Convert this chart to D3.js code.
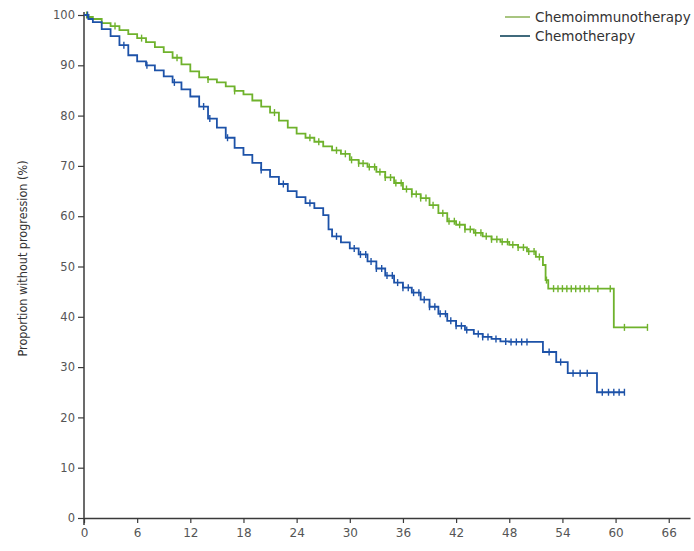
<!DOCTYPE html>
<html>
<head>
<meta charset="utf-8">
<script src="https://cdn.jsdelivr.net/npm/d3@7"></script>
<style>
  html, body { margin: 0; padding: 0; background: #fff; }
  svg { display: block; }
  text { font-family: "DejaVu Sans", "Liberation Sans", Arial, sans-serif; }
</style>
</head>
<body>
<svg id="chart" width="694" height="551"></svg>
<script>
// ---- Data ----
const seriesNames = ["Chemoimmunotherapy", "Chemotherapy"];

const chemoImmunoTimes = [0,0.5,1,2,3,4,5,6,7,8,9,10,11,12,13,14,15,16,17,18,19,20,21,22,23,24,25,26,27,28,29,30,31,32,33,34,35,36,37,38,39,40,41,42,43,44,45,46,47,48,49,50,51,51.8,52.1,52.4,59.8];
const chemoImmunoValues = [100,99.6,99.2,98.4,97.8,97.0,96.2,95.4,94.6,93.6,92.6,91.5,90.2,88.8,87.6,87.2,86.6,85.8,84.9,84.2,83.0,81.8,80.6,79.0,77.6,76.4,75.6,74.8,73.9,73.1,72.4,71.2,70.5,69.8,68.8,67.7,66.6,65.4,64.4,63.6,62.2,60.6,59.0,58.3,57.4,56.7,56.0,55.4,54.9,54.3,53.8,53.0,51.9,50.3,47.3,45.6,37.9];
const chemoImmunoEnd = 63.6;
const chemoImmunoCensored = [0.3,3.5,6.5,10.5,14,17,21.5,25.5,26.5,28.5,29.5,30.2,31,31.5,32.2,32.8,33.4,34,34.6,35.2,35.8,36.4,37,37.5,38,38.6,39.4,40.5,41.2,41.8,42.4,43,43.6,44.2,44.8,45.4,46,46.6,47.2,47.8,48.4,49,49.6,50.2,50.8,51.4,52.2,53,53.5,54,54.5,55,55.5,56,56.5,57,58,59.4,61,63.6];

const chemoTimes = [0,0.5,1,2,3,4,5,6,7,8,9,10,11,12,13,14,15,16,17,18,19,20,21,22,23,24,25,26,27,27.6,28,29,30,31,32,33,34,35,36,37,38,39,40,41,42,43,44,45,46,47,48,51.8,53.3,54.6,57.9];
const chemoValues = [100,99.2,98.6,97.2,95.8,94.0,92.0,90.8,90.0,89.0,87.8,86.6,85.2,83.8,81.8,79.4,77.6,75.6,73.6,72.2,70.6,69.2,67.8,66.4,65.0,63.8,62.6,61.6,60.2,57.4,56.0,54.8,53.6,52.4,51.0,49.6,48.2,46.8,45.8,44.8,43.4,42.0,40.6,39.2,38.2,37.4,36.6,36.0,35.6,35.1,35.0,33.0,31.0,28.8,25.0];
const chemoEnd = 61;
const chemoCensored = [0.4,4.5,7.1,10.2,13.5,14.2,16.2,20,22.5,25.5,28.5,30.5,31.2,31.8,32.4,33,33.6,34.2,34.8,35.4,36,36.6,37.2,37.8,38.4,39,39.6,40.2,40.8,41.4,42,42.6,43.2,44.5,45,45.6,46.5,47.6,48.2,48.8,49.4,50,52.5,53.8,55.2,56,56.8,58.5,59.2,59.8,60.4,61];

const xTicks = [0,6,12,18,24,30,36,42,48,54,60,66];
const yTicks = [0,10,20,30,40,50,60,70,80,90,100];
const yLabel = "Proportion without progression (%)";

const colors = ["#6fb22c", "#1d52a8"];
const legendColors = ["#9fbf72", "#2b5a6e"];

// ---- Scales ----
const svg = d3.select("#chart");
const x = d3.scaleLinear().domain([0, 68.4]).range([84, 690]);
const y = d3.scaleLinear().domain([0, 100]).range([518, 15]);

// ---- Axes ----
const axisColor = "#3a3a3a";
const gx = svg.append("g").attr("transform", `translate(0,${y(0)})`)
  .call(d3.axisBottom(x).tickValues(xTicks).tickSize(5).tickPadding(5).tickSizeOuter(0));
gx.select(".domain").attr("stroke", axisColor).attr("stroke-width", 1.5);
gx.selectAll(".tick line").attr("stroke", axisColor).attr("stroke-width", 1.2);
gx.selectAll(".tick text").attr("fill", "#555").style("font-size", "12px")
  .style("font-family", "DejaVu Sans, sans-serif");

const gy = svg.append("g").attr("transform", `translate(${x(0)},0)`)
  .call(d3.axisLeft(y).tickValues(yTicks).tickSize(6).tickPadding(3).tickSizeOuter(0));
gy.select(".domain").remove();
gy.append("line").attr("x1", 0).attr("x2", 0)
  .attr("y1", y(100) - 3).attr("y2", y(0) + 7)
  .attr("stroke", axisColor).attr("stroke-width", 1.5);
gy.selectAll(".tick line").attr("stroke", axisColor).attr("stroke-width", 1.2);
gy.selectAll(".tick text").attr("fill", "#555").style("font-size", "11.5px")
  .style("font-family", "DejaVu Sans, sans-serif");

svg.append("text")
  .attr("transform", `translate(27,${(y(0)+y(100))/2 - 8}) rotate(-90)`)
  .attr("text-anchor", "middle")
  .style("font-family", "DejaVu Sans Condensed, DejaVu Sans, sans-serif")
  .style("font-size", "12.5px")
  .attr("fill", "#333")
  .text(yLabel);

// ---- Curves ----
function build(times, values, end) {
  const pts = times.map((t, i) => ({ t, v: values[i] }));
  pts.push({ t: end, v: values[values.length - 1] });
  return pts;
}
function stepValue(times, values, t) {
  let v = values[0];
  for (let i = 0; i < times.length; i++) { if (times[i] <= t) v = values[i]; else break; }
  return v;
}
const series = [
  { times: chemoImmunoTimes, values: chemoImmunoValues, end: chemoImmunoEnd, cens: chemoImmunoCensored },
  { times: chemoTimes, values: chemoValues, end: chemoEnd, cens: chemoCensored }
];
const line = d3.line().x(d => x(d.t)).y(d => y(d.v)).curve(d3.curveStepAfter);

series.forEach((s, i) => {
  const g = svg.append("g");
  g.append("path").datum(build(s.times, s.values, s.end))
    .attr("fill", "none").attr("stroke", colors[i]).attr("stroke-width", 1.8)
    .attr("d", line);
  g.selectAll("line.cens").data(s.cens).enter().append("line")
    .attr("class", "cens")
    .attr("x1", d => x(d)).attr("x2", d => x(d))
    .attr("y1", d => y(stepValue(s.times, s.values, d)) - 3.5)
    .attr("y2", d => y(stepValue(s.times, s.values, d)) + 3.5)
    .attr("stroke", colors[i]).attr("stroke-width", 1.4);
});

// ---- Legend ----
const legend = svg.append("g");
seriesNames.forEach((name, i) => {
  const ly = 17 + i * 19;
  legend.append("line").attr("x1", i === 0 ? 505 : 500).attr("x2", 530)
    .attr("y1", ly).attr("y2", ly)
    .attr("stroke", legendColors[i]).attr("stroke-width", 1.8);
  legend.append("text").attr("x", 535).attr("y", ly + 5)
    .style("font-size", "13.5px").attr("fill", "#333").text(name);
});
</script>
</body>
</html>
